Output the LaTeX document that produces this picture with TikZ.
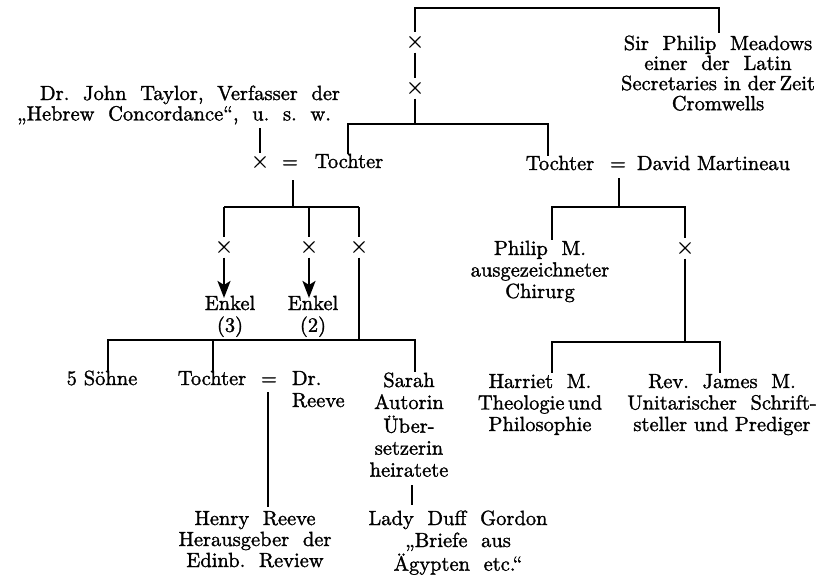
\documentclass[tikz,border=0pt]{standalone}
\usepackage{fontspec}
\setmainfont{lmroman10-regular.otf}[FakeStretch=1.0,FakeBold=1.4]
\newfontfamily\crossfont{lmroman10-regular.otf}[FakeBold=0.4]
\usetikzlibrary{arrows.meta}
% multi-line name blocks whose base is the first line's baseline
\newcommand\famblock[1]{\begin{tabular}[t]{@{}c@{}}#1\end{tabular}}
\newcommand\famblockl[1]{\begin{tabular}[t]{@{}l@{}}#1\end{tabular}}
\begin{document}
\begin{tikzpicture}[x=1pt,y=-1pt,
  every node/.style={inner sep=0pt,outer sep=0pt},
  txt/.style={anchor=base,font=\fontsize{20.5}{21.5}\selectfont},
  txtw/.style={anchor=base west,font=\fontsize{20.5}{21.5}\selectfont},
  xmark/.style={anchor=center,minimum height=21pt,font=\crossfont\fontsize{24}{24}\selectfont},
  gen/.style={line width=2.2pt},
  descend/.style={line width=2.2pt,-{Stealth[length=17pt,width=13pt,inset=4pt]}}]
\useasboundingbox (0,0) rectangle (832,576);

% ---- names ----
\node[txt,font=\fontsize{20.5}{19}\selectfont] (sirphilip) at (718,50)
  {\famblock{Sir\ \ Philip\ \ Meadows\\ einer\ \ der\ \ Latin\\ Secretaries in der\,Zeit\\ Cromwells}};
\node[txtw,font=\fontsize{20.5}{20}\selectfont] (taylor) at (17,100)
  {\famblockl{\hspace*{23pt}Dr.\ \ John\ \ Taylor,\ \ Verfasser\ \ der\\„Hebrew\ \ Concordance“,\ \ u.\ \ s.\ \ w.}};

\node[txt,font=\crossfont\fontsize{24}{24}\selectfont] (xT) at (260,168) {×};
\node[txt] (eqT) at (290,168) {=};
\node[txt] (tochterA) at (349,168) {Tochter};

\node[txt] (tochterB) at (560,170) {Tochter};
\node[txt] (eqB) at (618,170) {=};
\node[txtw] (martineau) at (637,170) {David Martineau};

\node[txt] (philipM) at (540,255) {\famblock{Philip\ \ M.\\ ausgezeichneter\\ Chirurg}};

\node[xmark] (gx1) at (415,42) {×};
\node[xmark] (gx2) at (415,88) {×};
\node[xmark] (kx1) at (224,247) {×};
\node[xmark] (kx2) at (309,247) {×};
\node[xmark] (kx3) at (359,247) {×};
\node[xmark] (mx) at (685,248) {×};

\node[txt] (enkel3) at (230,310) {\famblock{Enkel\\(3)}};
\node[txt] (enkel2) at (313,310) {\famblock{Enkel\\(2)}};

\node[txt] (soehne) at (102,385) {5 Söhne};
\node[txt] (tochterC) at (212,385) {Tochter};
\node[txt] (eqC) at (269,385) {=};
\node[txtw,font=\fontsize{20.5}{22}\selectfont] (drreeve) at (292,385) {\famblockl{Dr.\\Reeve}};
\node[txt,font=\fontsize{20.5}{22}\selectfont] (sarah) at (409,387)
  {\famblock{Sarah\\ Autorin\\ Über-\\ setzerin\\ heiratete}};
\node[txt] (harriet) at (540,388) {\famblock{Harriet\ \ M.\\ Theologie\,und\\ Philosophie}};
\node[txt] (james) at (722,388) {\famblock{Rev.\ \ James\ \ M.\\ Unitarischer\ \ Schrift-\\ steller\ und\ Prediger}};
\node[txt,font=\fontsize{20.5}{21}\selectfont] (henry) at (255,525)
  {\famblock{Henry\ \ Reeve\\ Herausgeber\ \ der\\ Edinb.\ \ Review}};
\node[txt,font=\fontsize{20.5}{22}\selectfont] (lady) at (458,525)
  {\famblock{Lady\ \ Duff\ \ Gordon\\ „Briefe\ \ aus\\ Ägypten\ \ etc.“}};

% ---- junctions ----
\coordinate (topL) at (415,8);
\coordinate (topR) at (719,8);
\coordinate (sirTop) at (719,33);
\coordinate (split2) at (415,124);
\coordinate (brA) at (348,124);
\coordinate (brB) at (548,124);
\coordinate (tayDrop) at (260,128);
\coordinate (tayEnd) at (260,153);
\coordinate (famA) at (293,180);
\coordinate (famAbar) at (293,207);
\coordinate (kA) at (224,207);
\coordinate (kC) at (359,207);
\coordinate (g4L) at (108,340);
\coordinate (g4M) at (213,340);
\coordinate (g4J) at (359,340);
\coordinate (g4R) at (415,340);
\coordinate (reeveTop) at (268,392);
\coordinate (reeveBot) at (268,507);
\coordinate (sarahTop) at (412,485);
\coordinate (sarahBot) at (412,505);
\coordinate (mA) at (619,178);
\coordinate (mBar) at (619,207);
\coordinate (mL) at (552,207);
\coordinate (mR) at (685,207);
\coordinate (hJ) at (685,342);
\coordinate (hL) at (552,342);
\coordinate (hR) at (720,342);

% ---- lines of descent ----
\draw[gen] (gx1.north) -- (topL) -- (topR) -- (sirTop);
\draw[gen] (gx1.south) -- (gx2.north);
\draw[gen] (gx2.south) -- (split2);
\draw[gen] (brA |- tochterA.north) -- (brA) -- (brB) -- (brB |- tochterB.north);
\draw[gen] (tayDrop) -- (tayEnd);

\draw[gen] (famA) -- (famAbar);
\draw[gen] (kA) -- (kC);
\draw[gen] (kA) -- (kx1.north);
\draw[gen] (kx2.north |- kA) -- (kx2.north);
\draw[gen] (kC) -- (kx3.north);
\draw[descend] (kx1.south) -- ([yshift=-3pt]kx1 |- enkel3.north);
\draw[descend] (kx2.south) -- ([yshift=-3pt]kx2 |- enkel2.north);
\draw[gen] (kx3.south) -- (g4J);

\draw[gen] (g4L |- soehne.north) -- (g4L) -- (g4R) -- (g4R |- sarah.north);
\draw[gen] (g4M) -- (g4M |- tochterC.north);
\draw[gen] (reeveTop) -- (reeveBot);
\draw[gen] (sarahTop) -- (sarahBot);

\draw[gen] (mA) -- (mBar);
\draw[gen] (mL |- philipM.north) -- (mL) -- (mR) -- (mx.north);
\draw[gen] (mx.south) -- (hJ);
\draw[gen] (hL |- harriet.north) -- (hL) -- (hR) -- (hR |- james.north);
\end{tikzpicture}
\end{document}
